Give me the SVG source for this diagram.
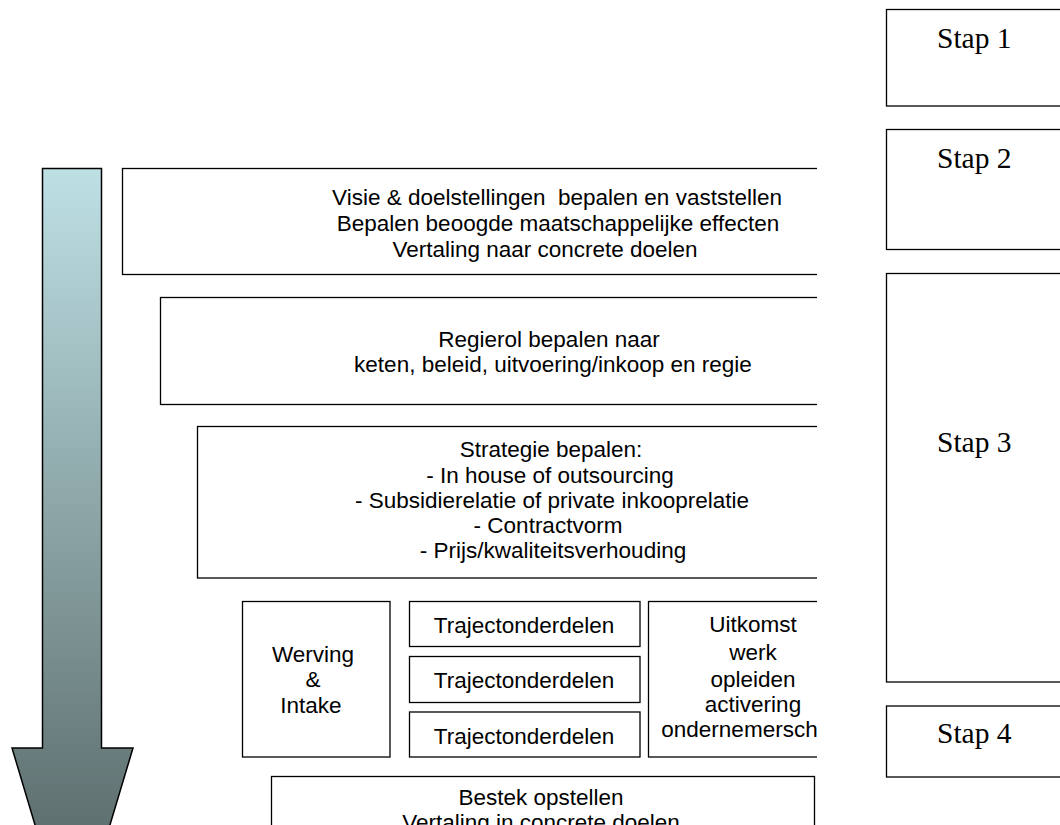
<svg xmlns="http://www.w3.org/2000/svg" width="1060" height="825" viewBox="0 0 1060 825">
<style>
.box{fill:#fff;stroke:#000;stroke-width:1.3}
.t{font-family:"Liberation Sans",Arial,sans-serif;font-size:22.5px;fill:#000;text-anchor:middle}
.st{font-family:"Liberation Serif","Times New Roman",serif;font-size:29.5px;fill:#000}
</style>
<defs>
<linearGradient id="ag" gradientUnits="userSpaceOnUse" x1="0" y1="168" x2="0" y2="950">
<stop offset="0" stop-color="#BEE0E4"/>
<stop offset="1" stop-color="#4D5B5A"/>
</linearGradient>
<clipPath id="lc"><rect x="0" y="0" width="817" height="825"/></clipPath>
</defs>
<rect x="0" y="0" width="1060" height="825" fill="#fff"/>

<g id="arrow">
<path d="M42.5,168.5 H101.5 V748 H133 L72.5,950 L12,748 H42.5 Z" fill="url(#ag)" stroke="#000" stroke-width="1.5"/>
</g>

<g clip-path="url(#lc)">
<g id="visie">
<rect class="box" x="122.5" y="168.5" width="720" height="106"/>
<text class="t" x="557" y="205" xml:space="preserve">Visie &amp; doelstellingen  bepalen en vaststellen</text>
<text class="t" x="558" y="231">Bepalen beoogde maatschappelijke effecten</text>
<text class="t" x="545" y="257">Vertaling naar concrete doelen</text>
</g>
<g id="regierol">
<rect class="box" x="160.5" y="297.5" width="700" height="107"/>
<text class="t" x="549" y="347">Regierol bepalen naar</text>
<text class="t" x="553" y="372">keten, beleid, uitvoering/inkoop en regie</text>
</g>
<g id="strategie">
<rect class="box" x="197.5" y="426.5" width="680" height="151.5"/>
<text class="t" x="551" y="457">Strategie bepalen:</text>
<text class="t" x="550" y="483">- In house of outsourcing</text>
<text class="t" x="552" y="508">- Subsidierelatie of private inkooprelatie</text>
<text class="t" x="548" y="533">- Contractvorm</text>
<text class="t" x="553" y="558">- Prijs/kwaliteitsverhouding</text>
</g>
<g id="werving">
<rect class="box" x="242.5" y="601.5" width="147.5" height="155.5"/>
<text class="t" x="313" y="662">Werving</text>
<text class="t" x="313" y="687">&amp;</text>
<text class="t" x="311" y="713">Intake</text>
</g>
<g id="traject1">
<rect class="box" x="409.5" y="601.5" width="230.5" height="45"/>
<text class="t" x="524" y="633">Trajectonderdelen</text>
</g>
<g id="traject2">
<rect class="box" x="409.5" y="656.5" width="230.5" height="46"/>
<text class="t" x="524" y="688">Trajectonderdelen</text>
</g>
<g id="traject3">
<rect class="box" x="409.5" y="712" width="230.5" height="45"/>
<text class="t" x="524" y="744">Trajectonderdelen</text>
</g>
<g id="uitkomst">
<rect class="box" x="648.5" y="601.5" width="220" height="155.5"/>
<text class="t" x="753" y="632">Uitkomst</text>
<text class="t" x="753" y="660">werk</text>
<text class="t" x="753" y="687">opleiden</text>
<text class="t" x="753" y="712">activering</text>
<text class="t" x="752" y="737">ondernemerschap</text>
</g>
<g id="bestek">
<rect class="box" x="271.5" y="776.5" width="543" height="80"/>
<text class="t" x="541" y="805">Bestek opstellen</text>
<text class="t" x="541" y="830">Vertaling in concrete doelen</text>
</g>
</g>

<g id="stap1">
<rect class="box" x="886.5" y="9.5" width="200" height="96.5"/>
<text class="st" x="937" y="48">Stap 1</text>
</g>
<g id="stap2">
<rect class="box" x="886.5" y="129.5" width="200" height="120"/>
<text class="st" x="937" y="168">Stap 2</text>
</g>
<g id="stap3">
<rect class="box" x="886.5" y="273.5" width="200" height="408.5"/>
<text class="st" x="937" y="452">Stap 3</text>
</g>
<g id="stap4">
<rect class="box" x="886.5" y="706" width="200" height="71"/>
<text class="st" x="937" y="743">Stap 4</text>
</g>
<g id="connectors"></g>
</svg>
